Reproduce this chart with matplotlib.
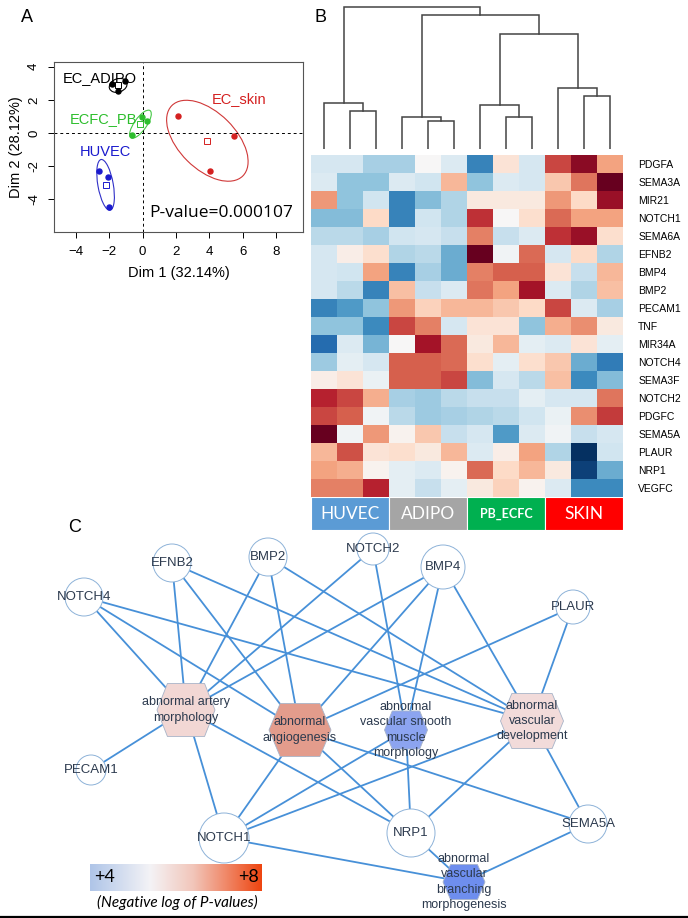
import numpy as np
import matplotlib
matplotlib.use('Agg')
import matplotlib.pyplot as plt
from matplotlib.patches import Ellipse, Circle, Polygon, Rectangle
from matplotlib.colors import LinearSegmentedColormap

# ---------------- DATA ----------------
# Panel A: PCA coordinates
pca_groups = ['EC_ADIPO', 'ECFC_PB', 'HUVEC', 'EC_skin']
adipo_x = [-1.80, -1.08, -1.50]
adipo_y = [2.95, 3.13, 2.53]
ecfc_x = [-0.02, 0.28, -0.64]
ecfc_y = [0.98, 0.72, -0.10]
huvec_x = [-2.62, -2.04, -1.98]
huvec_y = [-2.29, -2.63, -4.44]
skin_x = [2.11, 5.47, 4.05]
skin_y = [1.04, -0.16, -2.27]
# confidence ellipses (width, height, angle)
ell_adipo = (1.10, 0.80, 20)
ell_ecfc = (2.00, 0.74, 55)
ell_huvec = (0.92, 3.10, 10)
ell_skin = (6.00, 3.40, -45)
pvalue_text = 'P-value=0.000107'
dim1_label = 'Dim 1 (32.14%)'
dim2_label = 'Dim 2 (28.12%)'

# Panel B: heatmap
heat_genes = ['PDGFA', 'SEMA3A', 'MIR21', 'NOTCH1', 'SEMA6A', 'EFNB2', 'BMP4', 'BMP2',
              'PECAM1', 'TNF', 'MIR34A', 'NOTCH4', 'SEMA3F', 'NOTCH2', 'PDGFC', 'SEMA5A',
              'PLAUR', 'NRP1', 'VEGFC']
heat_values = [
    [-0.5, -0.5, -1.0, -1.0, 0.0, -0.4, -2.0, 0.4, -0.5, 2.0, 2.7, 1.2],
    [-0.4, -1.2, -1.2, -0.4, -0.6, 1.0, -1.2, -0.4, -0.5, 0.8, 1.6, 3.0],
    [1.3, -1.2, -0.6, -2.0, -1.3, -0.9, 0.3, 0.3, 0.3, 1.3, 0.6, 2.6],
    [-1.3, -1.3, 0.6, -2.0, -0.6, -0.9, 2.2, 0.0, 0.5, 1.7, 1.2, 1.2],
    [-0.8, -0.8, -1.0, -0.6, -0.5, -0.7, 1.5, -0.7, -0.4, 2.2, 2.6, 0.5],
    [-0.5, 0.2, 0.5, -0.9, -0.8, -1.5, 3.0, -0.1, 1.7, -0.5, 0.6, -0.9],
    [-0.5, -0.6, 1.2, -2.0, -1.0, -1.5, 1.5, 1.8, 1.8, 0.4, -0.7, 1.0],
    [-0.5, -0.8, -2.0, 0.9, -0.7, -0.4, 1.6, 1.2, 2.5, -0.4, -0.9, 0.9],
    [-2.0, -1.7, -1.2, 1.3, 0.7, 1.0, 1.0, 0.8, 0.6, 2.0, -0.4, -1.0],
    [-1.2, -1.2, -1.9, 2.0, 1.5, -0.5, 0.4, 0.4, -1.2, 1.1, 1.4, 0.3],
    [-2.3, -0.4, -1.4, 0.0, 2.5, 1.7, 0.3, 1.0, -0.3, -0.4, 0.4, -0.3],
    [-1.1, -0.3, -0.5, 1.8, 1.8, 1.7, 0.5, -0.3, 0.5, 0.8, -1.5, -2.1],
    [0.2, 0.4, -0.2, 1.8, 1.8, 2.0, -1.3, -0.5, -0.8, 0.9, -1.9, -1.3],
    [2.3, 2.0, 1.1, -1.0, -1.1, -0.8, -0.7, -0.7, -0.3, -0.5, -0.5, 1.6],
    [2.0, 1.8, -0.1, -0.8, -1.1, -1.0, -0.9, -0.8, -0.6, -0.2, 1.4, 2.1],
    [3.0, -0.1, 1.3, 0.1, 0.8, -0.7, -0.5, -1.7, -0.4, -0.1, -0.7, -0.5],
    [1.0, 1.9, 0.4, 0.5, 0.3, 1.0, -0.4, 0.2, 1.2, -0.9, -3.0, -0.6],
    [1.2, 1.1, 0.1, -0.3, -0.4, 0.1, 1.7, 0.6, 1.0, 0.3, -2.8, -1.5],
    [1.5, 1.5, 2.3, -0.3, -0.7, -0.3, 0.3, 0.7, 0.1, -0.4, -1.9, -1.9],
]
sample_groups = ['HUVEC', 'ADIPO', 'PB_ECFC', 'SKIN']
group_colors = ['#5B9BD5', '#A5A5A5', '#00B050', '#FF0000']
# dendrogram merges (child a, child b, height); leaves 0..11, new nodes 12..
dendro_merges = [(1, 2, 38), (0, 12, 46), (4, 5, 28), (3, 14, 32), (7, 8, 32),
                 (6, 16, 44), (10, 11, 53), (9, 18, 61), (17, 19, 115),
                 (15, 20, 134), (13, 21, 142)]

# Panel C: network
net_genes = ['EFNB2', 'BMP2', 'NOTCH2', 'BMP4', 'NOTCH4', 'PLAUR', 'PECAM1',
             'NOTCH1', 'NRP1', 'SEMA5A']
phenotypes = ['ART', 'ANG', 'VSM', 'DEV', 'BRA']
phenotype_labels = ['abnormal artery\nmorphology', 'abnormal\nangiogenesis',
                    'abnormal\nvascular smooth\nmuscle\nmorphology',
                    'abnormal\nvascular\ndevelopment',
                    'abnormal\nvascular\nbranching\nmorphogenesis']
phenotype_neglogp = [5.6, 6.5, 4.4, 5.5, 4.0]
edges = [
    ('ART', 'NOTCH4'), ('ART', 'EFNB2'), ('ART', 'BMP2'), ('ART', 'NOTCH2'),
    ('ART', 'BMP4'), ('ART', 'PECAM1'), ('ART', 'NOTCH1'), ('ART', 'NRP1'),
    ('ANG', 'NOTCH4'), ('ANG', 'EFNB2'), ('ANG', 'BMP2'), ('ANG', 'BMP4'),
    ('ANG', 'PLAUR'), ('ANG', 'NOTCH1'), ('ANG', 'NRP1'), ('ANG', 'SEMA5A'),
    ('VSM', 'NOTCH2'), ('VSM', 'BMP4'), ('VSM', 'NOTCH1'), ('VSM', 'NRP1'),
    ('DEV', 'NOTCH4'), ('DEV', 'EFNB2'), ('DEV', 'BMP2'), ('DEV', 'BMP4'),
    ('DEV', 'PLAUR'), ('DEV', 'NOTCH1'), ('DEV', 'NRP1'), ('DEV', 'SEMA5A'),
    ('BRA', 'NOTCH1'), ('BRA', 'NRP1'), ('BRA', 'SEMA5A'),
]
legend_min, legend_max = 4, 8

# ---------------- LAYOUT / STYLE ----------------
W, H = 688, 918
fig = plt.figure(figsize=(W / 100, H / 100), dpi=100)
plt.rcParams['font.family'] = ['Liberation Sans', 'DejaVu Sans']


def fax(x0, y0, x1, y1, **kw):
    return fig.add_axes([x0 / W, 1 - y1 / H, (x1 - x0) / W, (y1 - y0) / H], **kw)


# ---------------- PANEL A ----------------
axA = fax(54, 62, 303, 232)
groups_xy = [(adipo_x, adipo_y, ell_adipo, 'black'),
             (ecfc_x, ecfc_y, ell_ecfc, '#2DBE2D'),
             (huvec_x, huvec_y, ell_huvec, '#1A1ACD'),
             (skin_x, skin_y, ell_skin, '#D42020')]
ell_colors = ['black', '#45C845', '#3030C8', '#D03838']
for (xs, ys, ell, col), ecol in zip(groups_xy, ell_colors):
    cx, cy = np.mean(xs), np.mean(ys)
    axA.add_patch(Ellipse((cx, cy), ell[0], ell[1], angle=ell[2], fill=False,
                          edgecolor=ecol, lw=0.8))
    axA.plot(xs, ys, 'o', color=col, ms=3.6, zorder=3)
    axA.plot([cx], [cy], 's', mfc='none', mec=col, ms=5, mew=0.7, zorder=3)
axA.axhline(0, color='black', ls=(0, (3, 3)), lw=0.7)
axA.axvline(0, color='black', ls=(0, (3, 3)), lw=0.7)
lab_pos = [(-4.8, 3.29), (-4.37, 0.84), (-3.77, -1.13), (4.11, 2.03)]
for g, (tx, ty), (_, _, _, col) in zip(pca_groups, lab_pos, groups_xy):
    axA.text(tx, ty, g, color=col, fontsize=10.5, va='center', ha='left')
axA.text(0.42, -4.84, pvalue_text, fontsize=12.5, va='center', ha='left',
         family=['Open Sans', 'DejaVu Sans'])
axA.set_xlim(-5.3, 9.6)
axA.set_ylim(-5.96, 4.28)
axA.set_xticks([-4, -2, 0, 2, 4, 6, 8])
axA.set_yticks([-4, -2, 0, 2, 4])
axA.set_yticklabels(['-4', '-2', '0', '2', '4'], rotation=90, va='center')
axA.tick_params(labelsize=9.5, length=4, width=0.7, pad=6)
axA.set_xlabel(dim1_label, fontsize=10.5, labelpad=6)
axA.set_ylabel(dim2_label, fontsize=10.5, labelpad=4)
for s in axA.spines.values():
    s.set_linewidth(0.8)
    s.set_color('#555555')

# ---------------- PANEL B ----------------
# dendrogram
axD = fax(311, 5, 623, 149)
pos = {i: i + 0.5 for i in range(12)}
hgt = {i: 0 for i in range(12)}
for k, (a, b, h) in enumerate(dendro_merges):
    xa, xb = pos[a], pos[b]
    axD.plot([xa, xa, xb, xb], [hgt[a], h, h, hgt[b]], color='#444444', lw=1.1,
             solid_joinstyle='miter')
    pos[12 + k] = (xa + xb) / 2
    hgt[12 + k] = h
axD.set_xlim(0, 12)
axD.set_ylim(0, 144)
axD.axis('off')

# heatmap
axH = fax(311, 155, 623, 497)
axH.imshow(np.array(heat_values), cmap='RdBu_r', vmin=-3, vmax=3, aspect='auto',
           interpolation='nearest')
axH.set_xticks([])
axH.set_yticks(range(len(heat_genes)))
axH.set_yticklabels(heat_genes, fontsize=7.5)
axH.yaxis.tick_right()
axH.tick_params(axis='y', length=0, pad=11)
for s in axH.spines.values():
    s.set_visible(False)

# group bar
axG = fax(311, 497, 623, 530)
for i, (g, c) in enumerate(zip(sample_groups, group_colors)):
    axG.add_patch(Rectangle((i * 3, 0), 3, 1, facecolor=c, edgecolor='white', lw=0.8))
    if g == 'PB_ECFC':
        axG.text(i * 3 + 1.5, 0.48, g, color='white', fontsize=9, fontweight='bold',
                 ha='center', va='center', family=['Lato', 'DejaVu Sans'])
    else:
        axG.text(i * 3 + 1.5, 0.48, g, color='white', fontsize=12.5,
                 ha='center', va='center', family=['Lato', 'DejaVu Sans'])
axG.set_xlim(0, 12)
axG.set_ylim(0, 1)
axG.axis('off')

# ---------------- PANEL C ----------------
axC = fig.add_axes([0, 0, 1, 1], zorder=-1)
axC.set_xlim(0, W)
axC.set_ylim(H, 0)
axC.axis('off')
axC.patch.set_alpha(0)

gene_layout = {'EFNB2': (172, 563, 19), 'BMP2': (268, 557, 19), 'NOTCH2': (373, 549, 16),
               'BMP4': (443, 567, 22), 'NOTCH4': (84, 597, 19), 'PLAUR': (573, 607, 17),
               'PECAM1': (91, 770, 15), 'NOTCH1': (224, 838, 25), 'NRP1': (411, 833, 24),
               'SEMA5A': (588, 824, 19)}
pheno_layout = {'ART': (186, 710, 58, 53), 'ANG': (300, 730, 62, 53),
                'VSM': (406, 730, 43, 38), 'DEV': (532, 721, 63, 55),
                'BRA': (464, 882, 42, 35)}


def node_xy(n):
    if n in gene_layout:
        return gene_layout[n][:2]
    return pheno_layout[n][:2]


for a, b in edges:
    (x1, y1), (x2, y2) = node_xy(a), node_xy(b)
    axC.plot([x1, x2], [y1, y2], color='#4790D8', lw=1.3, zorder=1,
             solid_capstyle='round')

node_cmap = LinearSegmentedColormap.from_list(
    'node', [(0.0, '#6E8EEE'), (0.1, '#8DA4F0'), (0.38, '#F3DCDA'),
             (0.62, '#E39E8E'), (1.0, '#E8501E')])
label_color = '#2C3A4E'
for p, lab, v in zip(phenotypes, phenotype_labels, phenotype_neglogp):
    cx, cy, w, h = pheno_layout[p]
    t = (v - legend_min) / (legend_max - legend_min)
    verts = [(cx - w / 2, cy), (cx - w * 0.32, cy - h / 2), (cx + w * 0.32, cy - h / 2),
             (cx + w / 2, cy), (cx + w * 0.32, cy + h / 2), (cx - w * 0.32, cy + h / 2)]
    axC.add_patch(Polygon(verts, closed=True, facecolor=node_cmap(t),
                          edgecolor='#A8B4C8', lw=0.6, zorder=2))
    axC.text(cx, cy, lab, fontsize=9, color=label_color, ha='center', va='center',
             linespacing=1.35, zorder=4)

for g in net_genes:
    cx, cy, r = gene_layout[g]
    axC.add_patch(Circle((cx, cy), r, facecolor='white', edgecolor='#8DB2D8',
                         lw=0.7, zorder=2))
    axC.text(cx, cy, g, fontsize=9.5, color=label_color, ha='center', va='center',
             zorder=4)

# legend gradient
leg_cmap = LinearSegmentedColormap.from_list(
    'leg', [(0.0, '#AFC5E8'), (0.35, '#F4F3F6'), (0.6, '#F2C6BA'), (1.0, '#EE4510')])
grad = np.linspace(0, 1, 256).reshape(1, -1)
axC.imshow(grad, cmap=leg_cmap, extent=(90, 262, 891, 864), aspect='auto', zorder=1)
axC.text(94, 877, '+%d' % legend_min, fontsize=13, ha='left', va='center',
         family=['Lato', 'DejaVu Sans'], zorder=3)
axC.text(259, 877, '+%d' % legend_max, fontsize=13, ha='right', va='center',
         family=['Lato', 'DejaVu Sans'], zorder=3)
axC.text(177, 902, '(Negative log of P-values)', fontsize=11, style='italic',
         ha='center', va='center', family=['Lato', 'DejaVu Sans'])
axC.plot([0, W], [916.5, 916.5], color='black', lw=1.6)

# panel letters
axC.text(27, 18, 'A', fontsize=13, ha='center', va='center')
axC.text(320, 17, 'B', fontsize=13, ha='center', va='center')
axC.text(75, 527, 'C', fontsize=13, ha='center', va='center')

fig.savefig('out.png', dpi=100)
